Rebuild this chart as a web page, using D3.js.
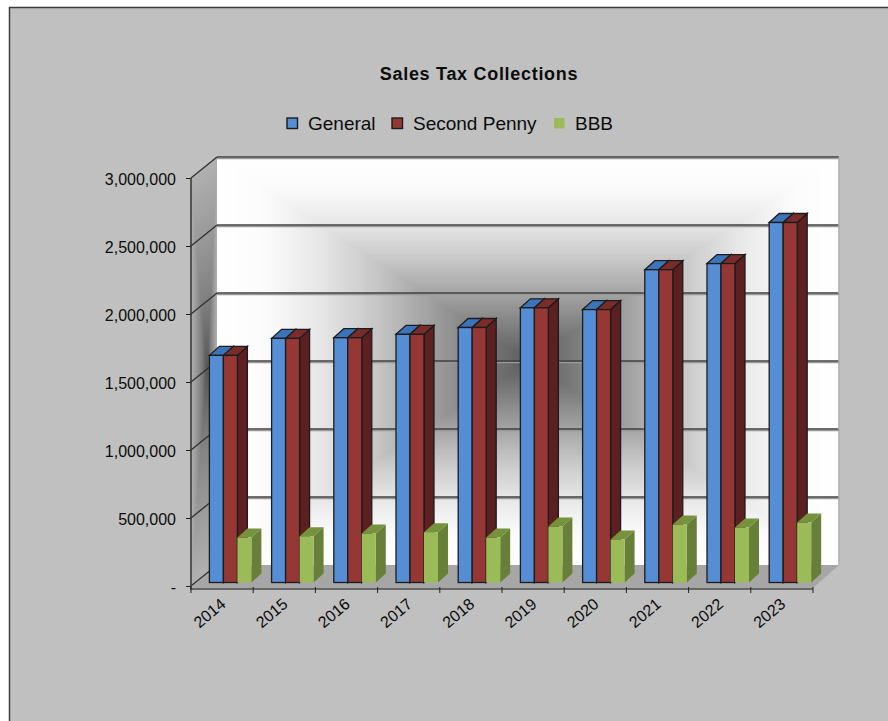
<!DOCTYPE html>
<html>
<head>
<meta charset="utf-8">
<script src="https://cdn.jsdelivr.net/npm/d3@7/dist/d3.min.js"></script>
<style>
html,body{margin:0;padding:0;background:#fff;}
svg{display:block;}
text{font-family:"Liberation Sans",Arial,sans-serif;fill:#0c0c0c;}
</style>
</head>
<body>
<svg id="chart" width="888" height="721"></svg>
<script>
// Sales tax collections by fiscal year
const years = ["2014","2015","2016","2017","2018","2019","2020","2021","2022","2023"];
const generalValues = [1670000,1795000,1800000,1825000,1875000,2020000,2007000,2300000,2345000,2647000];
const secondPennyValues = [1670000,1795000,1800000,1825000,1875000,2020000,2007000,2300000,2345000,2647000];
const bbbValues = [330000,340000,360000,370000,330000,411000,316000,426000,404000,441000];
const yTicks = [0,500000,1000000,1500000,2000000,2500000,3000000];
const seriesNames = ["General","Second Penny","BBB"];

const frontColors = ["#558ed5","#953735","#9bbb59"];
const topColors   = ["#3b74b8","#7a2c2a","#76923c"];
const sideColors  = ["#2f5f96","#5c2020","#677f38"];
const outlines    = ["#1c1c1c","#1c1c1c","none"];

const svg = d3.select("#chart");

// Plot box: front plane plus the receding offset of the back wall
const plotLeft = 191, plotRight = 813, plotTop = 178, zero = 586;
const wallDx = 26, wallDy = -21;
const barLift = -3.5, barDx = 10, barDy = -9;

const y = d3.scaleLinear().domain([0,3000000]).range([zero,plotTop]);
const groupX = d3.scaleBand().domain(years).range([plotLeft,plotRight])
  .paddingInner(0.325).paddingOuter(0.1625).align(0.91);
const subX = d3.scaleBand().domain(d3.range(3)).range([0,groupX.bandwidth()]);
const tickX = d3.scaleLinear().domain([0,years.length]).range([plotLeft,plotRight]);

// Chart area with its dark frame
svg.append("rect").attr("x",9).attr("y",8).attr("width",879).attr("height",713)
  .attr("fill","#c0c0c0");
svg.append("path").attr("d","M9.5,721V7.5H888").attr("fill","none")
  .attr("stroke","#3c3c3c").attr("stroke-width",1.5);

// Back wall: rectangular centre-out shade built from nested rectangles
const wall = {x0:plotLeft+wallDx, x1:plotRight+wallDx+0.5, y0:plotTop+wallDy, y1:zero+wallDy};
const wallShade = d3.scaleLinear()
  .domain([0,0.16,0.33,0.5,0.67,0.85,1])
  .range(["#5c5c5c","#7d7d7d","#a3a3a3","#c8c8c8","#e6e6e6","#fbfbfb","#ffffff"]);
const levels = d3.range(1,0,-1/160);
svg.append("g").selectAll("rect").data(levels).join("rect")
  .attr("x",t=>(wall.x0+wall.x1)/2-t*(wall.x1-wall.x0)/2)
  .attr("y",t=>(wall.y0+wall.y1)/2-t*(wall.y1-wall.y0)/2)
  .attr("width",t=>t*(wall.x1-wall.x0))
  .attr("height",t=>t*(wall.y1-wall.y0))
  .attr("fill",t=>wallShade(t));

// Side wall: same idea, sheared along the depth direction
const sideShade = d3.scaleLinear().domain([0,0.35,0.7,1])
  .range(["#555555","#808080","#9c9c9c","#b0b0b0"]);
const sidePoly = t=>{
  const cx=plotLeft+wallDx*0.62, cy=(plotTop+zero+wallDy)/2;
  const hw=wallDx*0.62, hw2=wallDx*0.38, hh=(zero-plotTop)/2;
  const pt=(u,v)=>{
    const du=u<0?u*hw:u*hw2;
    return [cx+du, cy+v*hh+(du+wallDx*0.12)*(wallDy/wallDx)];
  };
  return [pt(-t,-t),pt(t,-t),pt(t,t),pt(-t,t)].join(" ");
};
svg.append("g").selectAll("polygon").data(d3.range(1,0,-1/60)).join("polygon")
  .attr("points",sidePoly).attr("fill",t=>sideShade(t));

// Floor
svg.append("polygon")
  .attr("points",[[plotLeft,zero+2],[plotLeft+wallDx,zero+wallDy],[plotRight+wallDx,zero+wallDy],[plotRight,zero+2]].join(" "))
  .attr("fill","#a6a6a6");

// Gridlines on both walls, each with a soft lighter edge beneath
const grid = svg.append("g");
const gridTicks = yTicks.slice(1);
grid.selectAll("line.edge").data(gridTicks).join("line").attr("class","edge")
  .attr("x1",plotLeft+wallDx).attr("x2",plotRight+wallDx)
  .attr("y1",d=>y(d)+wallDy+1.5).attr("y2",d=>y(d)+wallDy+1.5)
  .attr("stroke","#999").attr("stroke-width",1.5);
grid.selectAll("line.back").data(gridTicks).join("line").attr("class","back")
  .attr("x1",plotLeft+wallDx).attr("x2",plotRight+wallDx)
  .attr("y1",d=>y(d)+wallDy).attr("y2",d=>y(d)+wallDy)
  .attr("stroke","#3f3f3f").attr("stroke-width",1.6);
grid.selectAll("line.depth").data(yTicks).join("line").attr("class","depth")
  .attr("x1",plotLeft).attr("x2",plotLeft+wallDx)
  .attr("y1",d=>y(d)).attr("y2",d=>y(d)+wallDy)
  .attr("stroke","#333").attr("stroke-width",1.4);
svg.append("line").attr("x1",plotRight+wallDx).attr("x2",plotRight+wallDx)
  .attr("y1",plotTop+wallDy).attr("y2",zero+wallDy).attr("stroke","#a8a8a8").attr("stroke-width",1.5);

// Value axis
const yAxis = d3.axisLeft(y).tickValues(yTicks).tickSize(5).tickPadding(10)
  .tickFormat(d=>d===0?"-":d3.format(",")(d));
const yG = svg.append("g").attr("transform",`translate(${plotLeft},0)`).call(yAxis);
yG.select(".domain").attr("stroke","#3a3a3a").attr("stroke-width",1.6)
  .attr("d",`M0,${plotTop}V${zero+4}`);
yG.selectAll(".tick line").attr("stroke","#222");
yG.selectAll(".tick text").attr("font-size",16).attr("dy","0.42em")
  .attr("font-family",'"Liberation Sans",Arial,sans-serif').attr("fill","#0c0c0c");

// Category axis with ticks on the group boundaries
const xG = svg.append("g");
xG.append("line").attr("x1",plotLeft).attr("x2",plotRight).attr("y1",zero+3).attr("y2",zero+3)
  .attr("stroke","#4a4a4a").attr("stroke-width",1.6);
xG.selectAll("line.tick").data(d3.range(years.length+1)).join("line").attr("class","tick")
  .attr("x1",i=>tickX(i)).attr("x2",i=>tickX(i))
  .attr("y1",zero+1).attr("y2",zero+7).attr("stroke","#222");
xG.selectAll("text").data(years).join("text")
  .attr("transform",(d,i)=>`translate(${tickX(i)+18.5},${zero+27}) rotate(-40)`)
  .attr("text-anchor","middle").attr("dy","0.35em").attr("font-size",16).text(d=>d);

// Bars: one series at a time inside each year, drawn back to front
const seriesValues = [generalValues,secondPennyValues,bbbValues];
const barGroups = svg.append("g").selectAll("g").data(years).join("g");
barGroups.each(function(year,yi){
  const g = d3.select(this);
  seriesValues.forEach((values,si)=>{
    const x0 = groupX(year)+subX(si), w = subX.bandwidth();
    const yBase = y(0)+barLift, yTop = y(values[yi])+barLift;
    const stroke = outlines[si], sw = si===2?0:1.3;
    g.append("polygon")
      .attr("points",[[x0+w,yTop],[x0+w+barDx,yTop+barDy],[x0+w+barDx,yBase+barDy],[x0+w,yBase]].join(" "))
      .attr("fill",sideColors[si]).attr("stroke",stroke).attr("stroke-width",sw);
    g.append("polygon")
      .attr("points",[[x0,yTop],[x0+barDx,yTop+barDy],[x0+w+barDx,yTop+barDy],[x0+w,yTop]].join(" "))
      .attr("fill",topColors[si]).attr("stroke",stroke).attr("stroke-width",sw);
    g.append("rect").attr("x",x0).attr("y",yTop).attr("width",w).attr("height",yBase-yTop)
      .attr("fill",frontColors[si]).attr("stroke",stroke).attr("stroke-width",sw);
  });
});

// Title
svg.append("text").attr("x",479).attr("y",80).attr("text-anchor","middle")
  .attr("font-size",18).attr("letter-spacing",0.7).attr("font-weight","bold").text("Sales Tax Collections");

// Legend
const legendMarkX = [287,392,554];
const legendTextX = [308,413,575];
const legend = svg.append("g").selectAll("g").data(seriesNames).join("g");
legend.append("rect")
  .attr("x",(d,i)=>legendMarkX[i]).attr("y",118).attr("width",10.5).attr("height",10.5)
  .attr("fill",(d,i)=>frontColors[i])
  .attr("stroke",(d,i)=>outlines[i]).attr("stroke-width",1.4);
legend.append("text").attr("x",(d,i)=>legendTextX[i]).attr("y",130)
  .attr("font-size",19).text(d=>d);
</script>
</body>
</html>
